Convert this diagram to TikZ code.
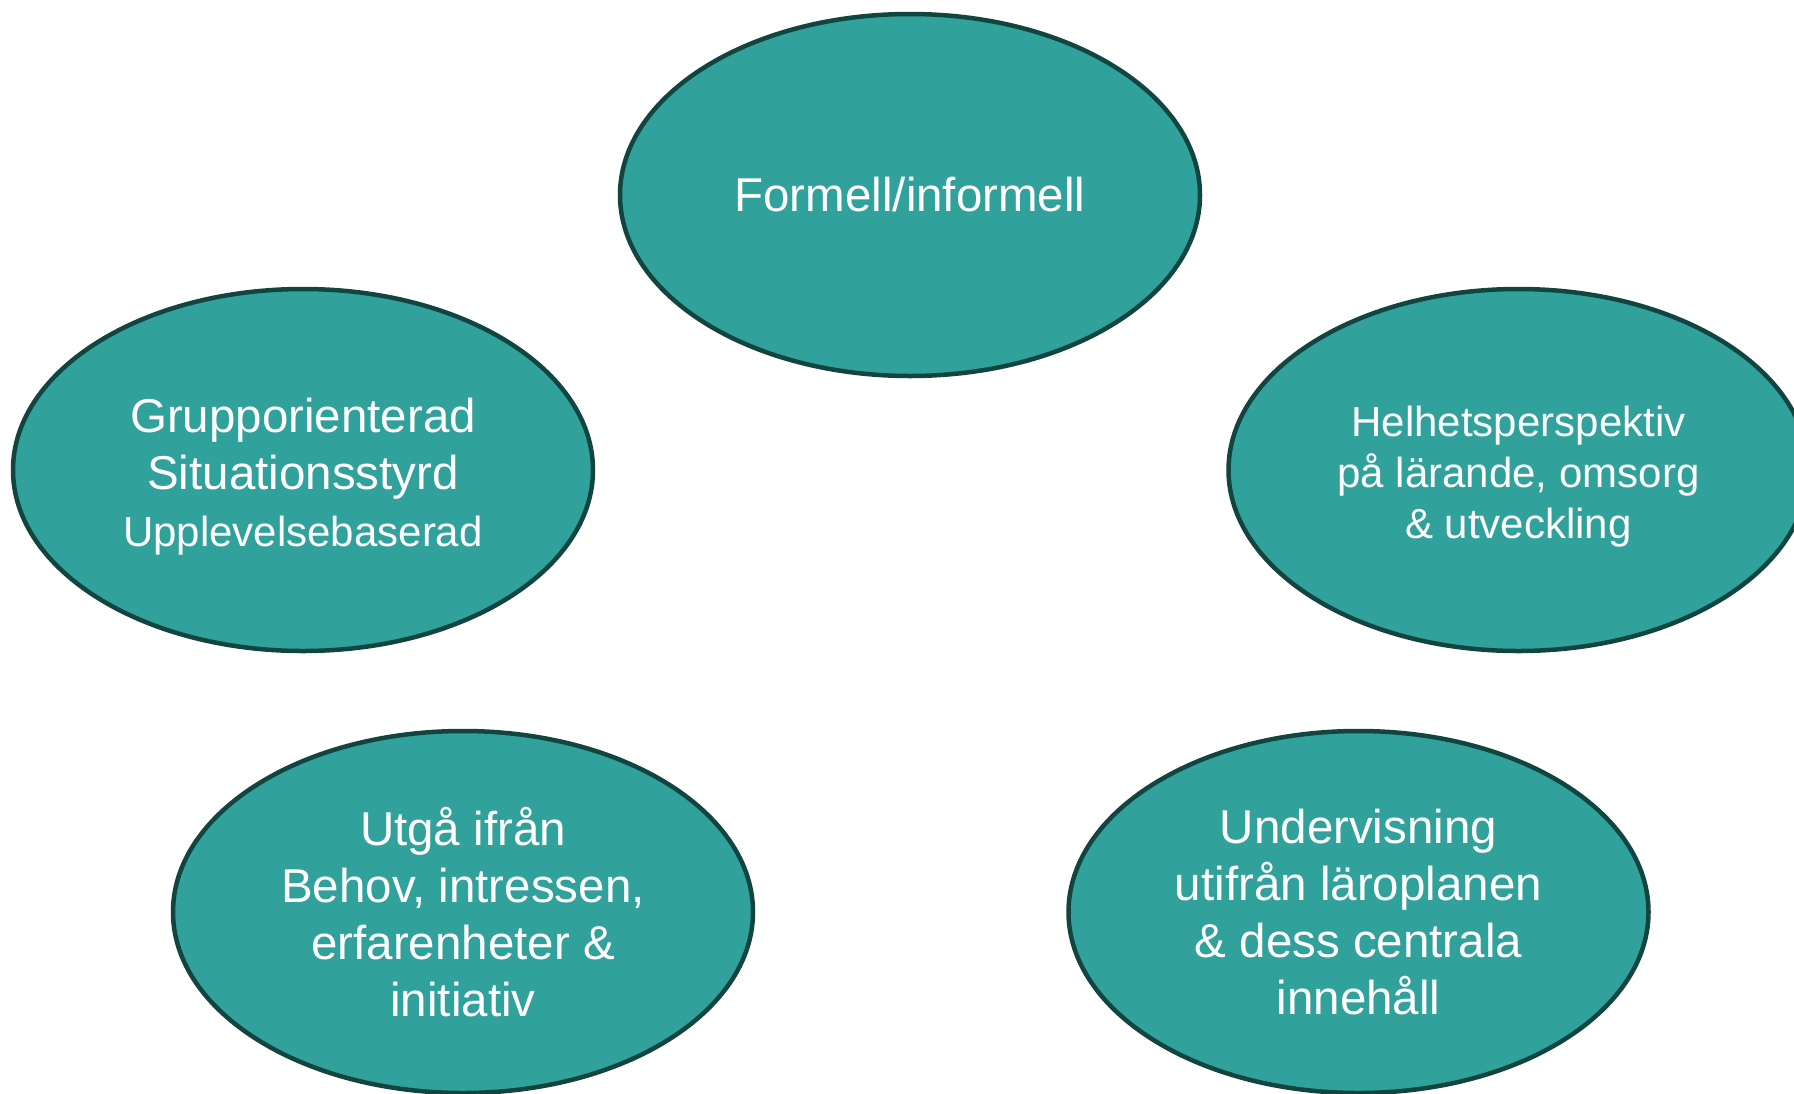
\documentclass[tikz,border=0pt]{standalone}
\usepackage{fontspec}
\setmainfont{Liberation Sans}
\usetikzlibrary{positioning,shapes}
\definecolor{tealfill}{RGB}{49,161,155}
\definecolor{tealdark}{RGB}{18,68,64}
\tikzstyle{obox}=[ellipse, draw=tealdark, fill=tealfill, line width=4.5pt,
                  minimum width=580pt, minimum height=362pt, inner sep=0pt,
                  text=white, align=center, font=\fontsize{47.5}{57}\selectfont]
\newcommand{\smalltxt}{\fontsize{42}{51}\selectfont}

\begin{document}
\begin{tikzpicture}[x=1pt, y=-1pt]
\useasboundingbox (0,0) rectangle (1794,1093);

\node (FORM) [obox] at (910,195) {Formell/informell};

\node (GRP) [obox] at (303,470) {\rule{0pt}{47pt}Grupporienterad\\Situationsstyrd\\{\smalltxt Upplevelsebaserad}};

\node (HEL) [obox, font=\smalltxt, right=631pt of GRP] {\rule{0pt}{43pt}Helhetsperspektiv\\p\aa{} l\"arande, omsorg\\\& utveckling};

\node (UTGA) [obox] at (463,912) {Utg\aa{} ifr\aa n\\Behov, intressen,\\erfarenheter \&\\initiativ};

\node (UND) [obox, right=311pt of UTGA] {Undervisning\\utifr\aa n l\"aroplanen\\\& dess centrala\\inneh\aa ll};

\end{tikzpicture}
\end{document}
